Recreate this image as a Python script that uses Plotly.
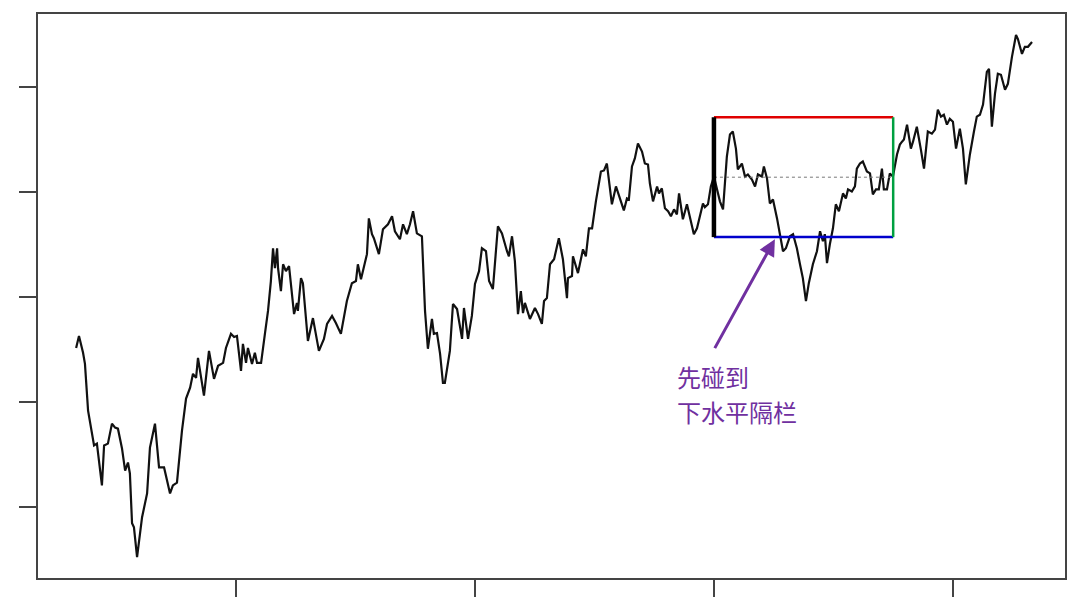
import plotly.graph_objects as go

# price path (trading day, price)
day = [33.1, 34.3, 36.0, 36.8, 38.1, 39.7, 40.6, 41.8, 43.9, 44.8, 46.4, 48.1, 49.4, 50.6, 52.3, 53.6,
       54.8, 55.6, 56.5, 57.3, 58.6, 60.7, 62.8, 64.0, 66.1, 67.8, 69.9, 72.4, 73.6, 75.3, 77.4, 79.1,
       80.8, 82.0, 83.3, 84.1, 86.6, 88.7, 90.8, 92.5, 94.6, 95.8, 97.9, 99.2, 100.4, 102.1, 102.9,
       104.2, 105.0, 106.7, 107.9, 108.8, 110.5, 112.1, 113.4, 114.6, 115.5, 116.3, 117.2, 117.6,
       118.8, 119.7, 120.9, 122.2, 124.3, 125.5, 125.9, 127.2, 128.0, 130.1, 132.2, 134.7, 136.8,
       138.1, 140.2, 141.8, 143.9, 146.4, 148.5, 150.2, 151.0, 152.3, 154.8, 155.6, 156.9, 157.7,
       159.8, 161.5, 163.6, 165.3, 166.5, 168.6, 169.9, 171.5, 172.8, 174.1, 175.7, 177.8, 179.1,
       180.3, 182.0, 182.8, 184.1, 185.4, 186.6, 187.4, 189.5, 190.8, 192.5, 194.6, 195.4, 197.1,
       198.7, 200.0, 201.7, 202.9, 204.6, 205.9, 207.5, 209.6, 211.3, 213.4, 214.2, 215.5, 216.7,
       218.0, 219.2, 220.1, 220.9, 223.0, 225.1, 226.4, 228.0, 228.9, 230.1, 231.4, 233.1, 235.1,
       236.8, 238.5, 238.9, 240.6, 241.0, 243.1, 245.2, 246.4, 247.7, 249.0, 250.6, 252.7, 254.0,
       255.2, 256.1, 257.3, 259.0, 260.7, 262.3, 263.6, 264.4, 265.7, 266.9, 268.2, 269.9, 271.1,
       272.4, 273.2, 274.5, 276.2, 277.0, 278.2, 279.5, 280.8, 282.0, 283.3, 284.5, 285.4, 287.0,
       288.7, 290.4, 291.6, 292.9, 293.7, 295.4, 296.2, 297.5, 298.7, 300.0, 302.5, 303.8, 305.4,
       306.7, 307.9, 309.2, 310.0, 311.7, 313.0, 314.2, 315.9, 317.2, 318.4, 320.1, 320.9, 322.2,
       323.4, 324.7, 326.4, 327.6, 328.9, 330.1, 331.8, 333.1, 334.7, 336.0, 337.2, 338.5, 339.7,
       341.4, 343.1, 344.4, 345.6, 346.4, 347.3, 348.5, 349.8, 351.0, 352.3, 354.0, 355.2, 356.1,
       357.7, 359.0, 359.8, 361.1, 362.3, 364.0, 365.3, 366.5, 367.8, 369.0, 370.3, 371.1, 372.4,
       373.6, 374.9, 376.6, 377.8, 378.7, 379.5, 380.8, 382.4, 383.3, 384.9, 386.6, 387.9, 389.5,
       391.2, 392.5, 393.7, 395.0, 396.2, 397.5, 398.7, 400.0, 401.3, 402.9, 404.2, 405.4, 407.1,
       408.8, 410.0, 411.3, 412.6, 414.2, 415.1, 416.3, 417.6, 418.8, 420.1, 421.8, 423.0, 424.7,
       426.4, 427.2, 428.9, 430.1, 431.4, 433.1]
price = [97.58, 98.15, 97.35, 96.82, 94.60, 93.51, 92.94, 93.03, 91.04, 92.94, 93.03, 93.98, 93.79,
         93.74, 92.80, 91.75, 92.13, 91.61, 89.24, 89.05, 87.63, 89.53, 90.66, 92.84, 93.98, 91.90,
         91.90, 90.66, 91.04, 91.18, 93.65, 95.17, 95.69, 96.35, 96.16, 97.11, 95.31, 97.44, 96.11,
         96.73, 96.87, 97.58, 98.25, 98.10, 98.15, 96.49, 97.77, 96.87, 97.58, 96.82, 97.35, 96.87,
         96.87, 98.25, 99.34, 100.76, 102.32, 101.37, 102.32, 101.37, 100.28, 101.56, 101.23, 101.47,
         99.19, 99.72, 99.34, 100.90, 100.66, 97.91, 99.00, 97.44, 98.01, 98.72, 99.10, 98.77, 98.25,
         99.81, 100.66, 100.76, 101.56, 100.85, 102.04, 103.74, 102.99, 102.80, 102.04, 103.22,
         103.46, 103.84, 103.13, 102.75, 103.46, 102.99, 103.46, 104.08, 103.03, 102.89, 99.34,
         97.54, 98.96, 98.25, 98.29, 97.30, 95.92, 95.92, 97.44, 99.67, 99.43, 98.01, 99.48, 98.01,
         99.10, 100.62, 101.23, 102.32, 102.18, 100.76, 100.38, 103.36, 103.03, 102.18, 101.94,
         102.89, 101.71, 99.19, 100.28, 99.24, 99.72, 98.96, 99.48, 99.19, 98.72, 99.81, 99.95,
         101.56, 101.80, 102.80, 101.80, 99.95, 100.90, 101.00, 101.94, 101.14, 102.27, 101.94,
         103.27, 103.27, 104.55, 105.97, 106.02, 106.35, 105.50, 104.41, 105.26, 104.64, 104.12,
         104.69, 104.64, 106.21, 106.59, 107.30, 106.92, 106.35, 106.30, 105.40, 104.55, 105.26,
         104.93, 105.17, 104.22, 104.08, 103.84, 104.17, 103.93, 104.93, 103.70, 104.41, 103.60,
         102.99, 103.27, 103.70, 104.45, 104.27, 104.41, 105.26, 105.73, 104.55, 104.17, 106.68,
         107.73, 107.87, 107.06, 106.07, 106.35, 105.73, 105.83, 105.59, 105.26, 105.83, 105.73,
         106.21, 105.64, 104.45, 104.64, 103.74, 102.99, 102.18, 102.32, 102.89, 102.99, 102.32,
         101.56, 100.90, 99.81, 100.66, 101.56, 102.18, 103.13, 102.65, 102.99, 101.61, 102.51,
         103.27, 104.41, 104.08, 104.93, 104.69, 105.12, 105.02, 105.26, 106.11, 106.35, 106.45,
         105.97, 105.88, 104.88, 105.12, 105.12, 106.11, 105.12, 105.12, 105.88, 105.73, 106.78,
         107.25, 107.39, 107.49, 108.20, 107.06, 107.39, 108.10, 107.01, 106.11, 107.87, 107.77,
         107.96, 108.91, 108.58, 108.67, 108.20, 108.48, 108.34, 107.06, 108.01, 107.06, 105.36,
         106.78, 107.87, 108.58, 108.67, 109.15, 110.71, 110.85, 108.10, 109.67, 110.62, 110.57,
         109.86, 110.14, 111.42, 112.46, 112.27, 111.56, 111.90, 111.90, 112.13]

# triple barrier setup
entry_day = 300
expiry_day = 375
entry_price = 105.7
barrier = 2.85
upper = entry_price + barrier
lower = entry_price - barrier

purple = "#7030A0"

fig = go.Figure()
fig.add_trace(go.Scatter(x=day, y=price, mode="lines",
                         line=dict(color="#111111", width=2.2)))

# mid (entry) level
fig.add_trace(go.Scatter(x=[entry_day, expiry_day], y=[entry_price, entry_price], mode="lines",
                         line=dict(color="#777777", width=1, dash="dot")))
# upper / lower / vertical barriers
fig.add_trace(go.Scatter(x=[entry_day, expiry_day], y=[upper, upper], mode="lines",
                         line=dict(color="#E00000", width=2.5)))
fig.add_trace(go.Scatter(x=[entry_day, expiry_day], y=[lower, lower], mode="lines",
                         line=dict(color="#0000CC", width=2.5)))
fig.add_trace(go.Scatter(x=[expiry_day, expiry_day], y=[lower, upper], mode="lines",
                         line=dict(color="#00A040", width=2.5)))
fig.add_trace(go.Scatter(x=[entry_day, entry_day], y=[lower, upper], mode="lines",
                         line=dict(color="#000000", width=4.5)))

# arrow pointing at the first touch of the lower barrier
fig.add_annotation(x=325.5, y=102.75, ax=300, ay=97.5, xref="x", yref="y", axref="x", ayref="y",
                   text="", showarrow=True, arrowhead=2, arrowsize=1.1, arrowwidth=3,
                   arrowcolor=purple)
fig.add_annotation(x=283.5, y=96.2, xref="x", yref="y", text="先碰到", showarrow=False,
                   xanchor="left", yanchor="middle",
                   font=dict(family="Noto Sans CJK SC", size=24, color=purple))
fig.add_annotation(x=283.5, y=94.55, xref="x", yref="y", text="下水平隔栏", showarrow=False,
                   xanchor="left", yanchor="middle",
                   font=dict(family="Noto Sans CJK SC", size=24, color=purple))

axis_style = dict(showgrid=False, zeroline=False, showticklabels=False, showline=True,
                  mirror=True, linecolor="#444444", linewidth=2, ticks="outside",
                  ticklen=17, tickwidth=2, tickcolor="#444444")
fig.update_xaxes(range=[17.15, 446.9], tickvals=[100, 200, 300, 400], **axis_style)
fig.update_yaxes(range=[86.64, 113.46], tickvals=[90, 95, 100, 105, 110], **axis_style)

# page body adds an 8px offset, so margins are trimmed to keep the frame in place
fig.update_layout(width=1080, height=606, showlegend=False,
                  margin=dict(l=30, r=23, t=4, b=36),
                  plot_bgcolor="white", paper_bgcolor="white")

fig.write_html("out.html")
